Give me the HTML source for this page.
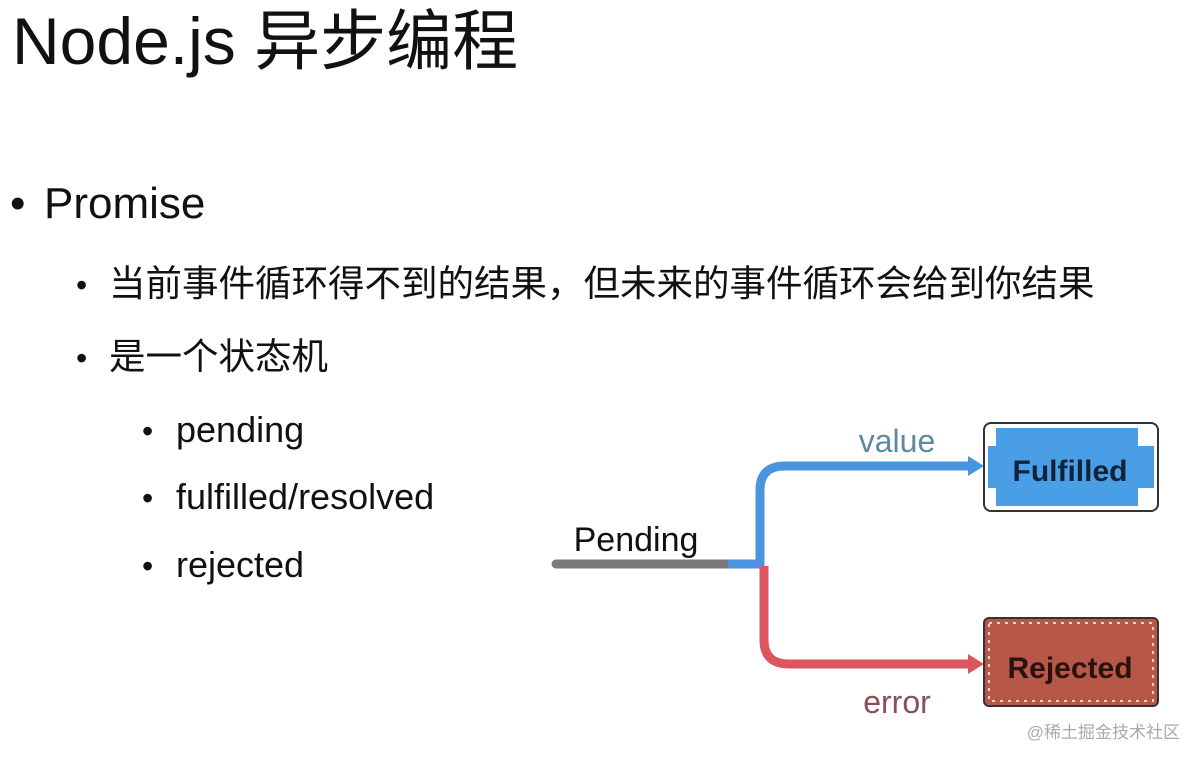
<!DOCTYPE html>
<html><head><meta charset="utf-8"><style>
body{margin:0;width:1201px;height:763px;background:#fff;position:relative;overflow:hidden;font-family:"Liberation Sans","Noto Sans CJK SC",sans-serif;color:#111}
.t{position:absolute;white-space:nowrap}
</style></head><body>
<div class="t" style="left:12px;top:3px;font-size:66px;line-height:76px">Node.js 异步编程</div>
<div class="t" style="left:10px;top:178px;font-size:44px;line-height:52px"><span style="display:inline-block;width:34px">•</span>Promise</div>
<div class="t" style="left:76px;top:262px;font-size:36.5px;line-height:44px"><span style="display:inline-block;width:33px;font-size:32px">•</span>当前事件循环得不到的结果，但未来的事件循环会给到你结果</div>
<div class="t" style="left:76px;top:335px;font-size:36.5px;line-height:44px"><span style="display:inline-block;width:33px;font-size:32px">•</span>是一个状态机</div>
<div class="t" style="left:142px;top:408px;font-size:36px;line-height:44px"><span style="display:inline-block;width:34px;font-size:32px">•</span>pending</div>
<div class="t" style="left:142px;top:475px;font-size:36px;line-height:44px"><span style="display:inline-block;width:34px;font-size:32px">•</span>fulfilled/resolved</div>
<div class="t" style="left:142px;top:543px;font-size:36px;line-height:44px"><span style="display:inline-block;width:34px;font-size:32px">•</span>rejected</div>
<svg width="1201" height="763" style="position:absolute;left:0;top:0">
<line x1="556" y1="564" x2="730" y2="564" stroke="#7a7a7a" stroke-width="9" stroke-linecap="round"/>
<path d="M728 564 H760 V490 Q760 466 785 466 H972" fill="none" stroke="#4a95e0" stroke-width="9"/>
<polygon points="968,456 984,466 968,476" fill="#4a95e0"/>
<path d="M764 566 V640 Q764 664 789 664 H972" fill="none" stroke="#dd5560" stroke-width="9"/>
<polygon points="968,654 984,664 968,674" fill="#dd5560"/>
<rect x="984" y="423" width="174" height="88" rx="7" fill="#fff" stroke="#333" stroke-width="2"/>
<rect x="996" y="428" width="142" height="78" fill="#4a9ee6"/>
<rect x="988" y="446" width="166" height="42" fill="#4a9ee6"/>
<rect x="984" y="618" width="174" height="88" rx="5" fill="#b65748" stroke="#333" stroke-width="2"/>
<rect x="989" y="623" width="164" height="78" fill="none" stroke="#f3d0c8" stroke-width="2" stroke-dasharray="3 5"/>
<text x="1070" y="481" font-size="30" font-weight="bold" text-anchor="middle" fill="#12223a" font-family="Liberation Sans Narrow,Liberation Sans,sans-serif">Fulfilled</text>
<text x="1070" y="678" font-size="30" font-weight="bold" text-anchor="middle" fill="#2a1210" font-family="Liberation Sans Narrow,Liberation Sans,sans-serif">Rejected</text>
<text x="636" y="551" font-size="34" text-anchor="middle" fill="#111" font-family="Liberation Sans Narrow,Liberation Sans,sans-serif">Pending</text>
<text x="897" y="452" font-size="32" text-anchor="middle" fill="#5c8aa0">value</text>
<text x="897" y="713" font-size="32" text-anchor="middle" fill="#8a4f58">error</text>
<text x="1180" y="738" font-size="17" text-anchor="end" fill="#aaa" font-family="Liberation Sans,Noto Sans CJK SC,sans-serif">@稀土掘金技术社区</text>
</svg>
</body></html>
